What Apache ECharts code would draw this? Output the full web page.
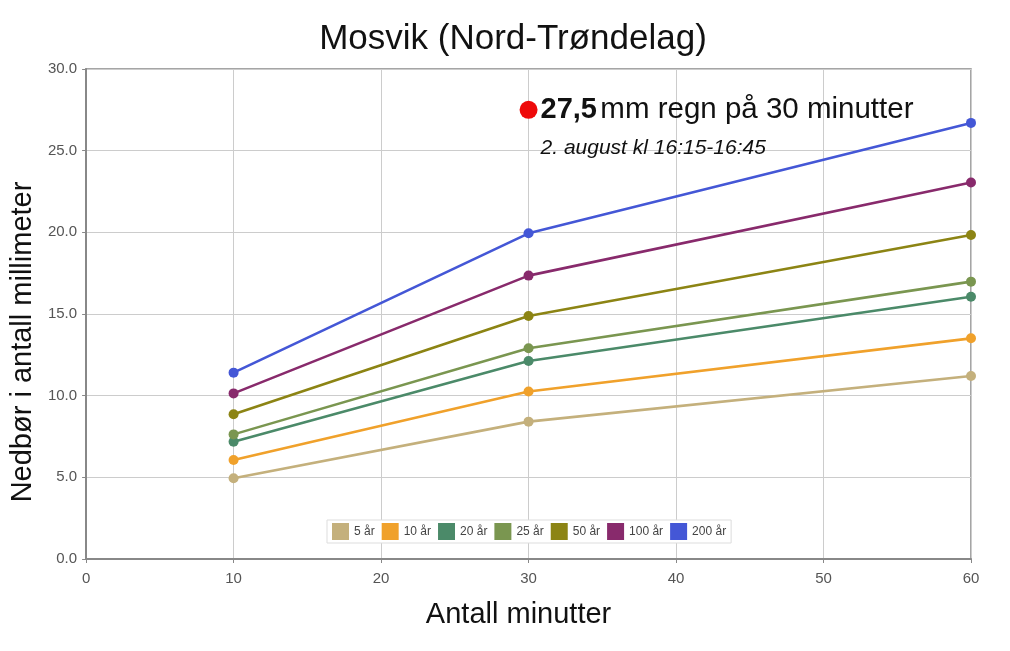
<!DOCTYPE html>
<html>
<head>
<meta charset="utf-8">
<script src="https://cdn.jsdelivr.net/npm/echarts@6/dist/echarts.min.js"></script>
<style>
  html, body { margin: 0; padding: 0; background: #fff; }
  #chart { width: 1010px; height: 651px; }
</style>
</head>
<body>
<div id="chart"></div>
<script>
// minutter
var minutter = [10, 30, 60];
var serieNavn = ['5 år', '10 år', '20 år', '25 år', '50 år', '100 år', '200 år'];
var farger = ['#c4b07c', '#f0a12b', '#4b8a69', '#7a9650', '#8c8414', '#882a6c', '#4457d6'];
// nedbør (mm)
var ar5 = [4.94, 8.41, 11.2];
var ar10 = [6.06, 10.25, 13.51];
var ar20 = [7.18, 12.12, 16.06];
var ar25 = [7.63, 12.9, 16.98];
var ar50 = [8.86, 14.88, 19.84];
var ar100 = [10.14, 17.35, 23.05];
var ar200 = [11.41, 19.94, 26.7];
var verdier = [ar5, ar10, ar20, ar25, ar50, ar100, ar200];
// observert
var observert = [30, 27.5];

var myChart = echarts.init(document.getElementById('chart'));

var series = [];
for (var i = 0; i < serieNavn.length; i++) {
  var punkter = [];
  for (var j = 0; j < minutter.length; j++) {
    punkter.push([minutter[j], verdier[i][j]]);
  }
  series.push({
    name: serieNavn[i],
    type: 'line',
    symbol: 'circle',
    symbolSize: 10,
    lineStyle: { width: 2.6 },
    data: punkter
  });
}
series.push({
  name: 'observert',
  type: 'scatter',
  symbolSize: 18,
  itemStyle: { color: '#ee0a0a', opacity: 1 },
  data: [observert],
  label: {
    show: true,
    position: [21, -10],
    align: 'left',
    verticalAlign: 'top',
    color: '#111',
    opacity: 1,
    formatter: '{b|27,5} {n|mm regn på 30 minutter}\n{i|2. august kl 16:15-16:45}',
    rich: {
      b: { fontSize: 29, fontWeight: 'bold', color: '#111', fontFamily: 'Liberation Sans', lineHeight: 38 },
      n: { fontSize: 29.5, color: '#111', fontFamily: 'Liberation Sans', lineHeight: 38 },
      i: { fontSize: 21, fontStyle: 'italic', color: '#111', fontFamily: 'Liberation Sans', lineHeight: 38 }
    }
  }
});

var option = {
  color: farger,
  animation: false,
  title: {
    text: 'Mosvik (Nord-Trøndelag)',
    left: 508,
    textAlign: 'center',
    top: 17,
    textStyle: { fontSize: 35, fontWeight: 'normal', color: '#111', fontFamily: 'Liberation Sans' }
  },
  legend: {
    data: serieNavn,
    left: 327,
    top: 520,
    padding: [3, 5],
    itemGap: 7,
    itemWidth: 17,
    itemHeight: 17,
    icon: 'rect',
    borderColor: '#dddddd',
    borderWidth: 1,
    backgroundColor: '#ffffff',
    textStyle: { fontSize: 12, color: '#444', fontFamily: 'Liberation Sans' }
  },
  grid: {
    left: 85,
    right: 39,
    top: 69,
    bottom: 92,
    show: true,
    borderColor: '#888',
    borderWidth: 1.5
  },
  xAxis: {
    type: 'value',
    min: 0,
    max: 60,
    interval: 10,
    name: 'Antall minutter',
    nameLocation: 'middle',
    nameGap: 41,
    nameTextStyle: { fontSize: 29, color: '#111', fontFamily: 'Liberation Sans', padding: [0, 20, 0, 0] },
    axisLine: { lineStyle: { color: '#888', width: 2 } },
    axisTick: { show: true, length: 4, lineStyle: { color: '#888' } },
    axisLabel: { fontSize: 15, color: '#555', margin: 12, fontFamily: 'Liberation Sans' },
    splitLine: { show: true, lineStyle: { color: '#cccccc', width: 1 } }
  },
  yAxis: {
    type: 'value',
    min: 0,
    max: 30,
    interval: 5,
    name: 'Nedbør i antall millimeter',
    nameLocation: 'middle',
    nameGap: 48,
    nameTextStyle: { fontSize: 29, color: '#111', fontFamily: 'Liberation Sans', padding: [0, 56, 0, 0] },
    axisLine: { show: true, lineStyle: { color: '#888', width: 2 } },
    axisTick: { show: true, length: 4, lineStyle: { color: '#888' } },
    axisLabel: {
      fontSize: 15, color: '#555', margin: 9, fontFamily: 'Liberation Sans',
      formatter: function (v) { return v.toFixed(1); }
    },
    splitLine: { show: true, lineStyle: { color: '#cccccc', width: 1 } }
  },
  series: series
};

myChart.setOption(option);
</script>
</body>
</html>
